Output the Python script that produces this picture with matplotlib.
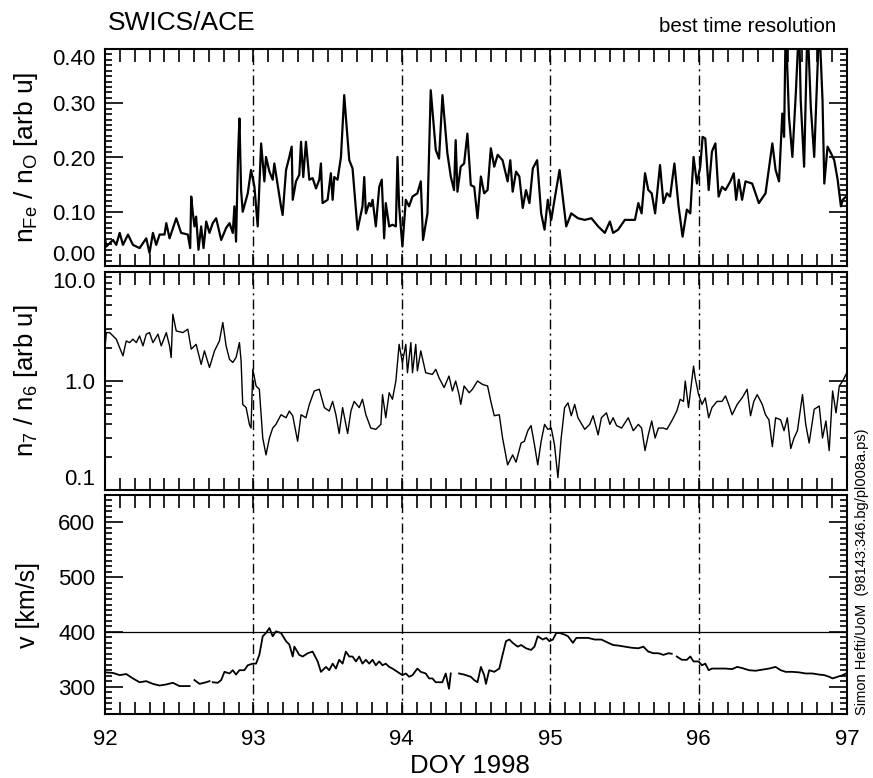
import numpy as np
import matplotlib
matplotlib.use("Agg")
import matplotlib.pyplot as plt
from matplotlib.ticker import MultipleLocator, FixedLocator, NullFormatter, FormatStrFormatter

plt.rcParams["font.family"] = ["Liberation Sans", "DejaVu Sans"]
plt.rcParams["mathtext.fontset"] = "custom"
plt.rcParams["mathtext.rm"] = "Liberation Sans"
plt.rcParams["mathtext.it"] = "Liberation Sans"

# --- Fe/O ratio (top panel) ---
fe_o_day = [92.000, 92.009, 92.054, 92.076, 92.099, 92.121, 92.155, 92.188, 92.233, 92.278,
            92.300, 92.323, 92.345, 92.368, 92.401, 92.413, 92.435, 92.480, 92.513, 92.558,
            92.574, 92.581, 92.592, 92.603, 92.614, 92.630, 92.648, 92.664, 92.682, 92.704,
            92.726, 92.749, 92.783, 92.816, 92.839, 92.861, 92.872, 92.883, 92.897, 92.906,
            92.917, 92.928, 92.962, 92.984, 93.007, 93.029, 93.052, 93.074, 93.085, 93.108,
            93.130, 93.141, 93.164, 93.186, 93.197, 93.220, 93.242, 93.258, 93.265, 93.287,
            93.309, 93.321, 93.336, 93.354, 93.377, 93.399, 93.422, 93.444, 93.455, 93.466,
            93.500, 93.522, 93.534, 93.545, 93.567, 93.590, 93.612, 93.623, 93.646, 93.668,
            93.702, 93.735, 93.747, 93.758, 93.780, 93.791, 93.803, 93.825, 93.848, 93.865,
            93.881, 93.892, 93.915, 93.937, 93.960, 93.971, 93.982, 94.004, 94.027, 94.049,
            94.072, 94.105, 94.128, 94.143, 94.173, 94.195, 94.229, 94.251, 94.274, 94.307,
            94.330, 94.352, 94.363, 94.375, 94.397, 94.420, 94.442, 94.465, 94.488, 94.510,
            94.533, 94.555, 94.578, 94.600, 94.623, 94.646, 94.679, 94.713, 94.731, 94.747,
            94.770, 94.792, 94.815, 94.837, 94.860, 94.883, 94.912, 94.939, 94.962, 94.984,
            95.007, 95.029, 95.063, 95.108, 95.142, 95.187, 95.233, 95.278, 95.323, 95.368,
            95.402, 95.424, 95.458, 95.503, 95.571, 95.594, 95.616, 95.639, 95.661, 95.684,
            95.707, 95.740, 95.763, 95.786, 95.808, 95.837, 95.865, 95.892, 95.921, 95.944,
            95.966, 95.989, 96.011, 96.027, 96.045, 96.068, 96.090, 96.113, 96.135, 96.158,
            96.181, 96.214, 96.237, 96.253, 96.271, 96.293, 96.316, 96.361, 96.406, 96.451,
            96.497, 96.519, 96.542, 96.564, 96.576, 96.587, 96.609, 96.632, 96.655, 96.677,
            96.688, 96.711, 96.734, 96.756, 96.779, 96.813, 96.835, 96.847, 96.869, 96.892,
            96.914, 96.937, 96.959, 96.971, 96.993]
fe_o = [0.051, 0.036, 0.048, 0.039, 0.061, 0.039, 0.058, 0.039, 0.033, 0.051,
        0.024, 0.061, 0.039, 0.058, 0.058, 0.079, 0.051, 0.088, 0.061, 0.058,
        0.033, 0.128, 0.097, 0.073, 0.091, 0.030, 0.073, 0.033, 0.082, 0.061,
        0.079, 0.088, 0.048, 0.070, 0.079, 0.061, 0.110, 0.045, 0.208, 0.272,
        0.140, 0.100, 0.134, 0.177, 0.146, 0.073, 0.226, 0.156, 0.201, 0.174,
        0.159, 0.189, 0.149, 0.110, 0.094, 0.177, 0.201, 0.220, 0.122, 0.156,
        0.168, 0.229, 0.164, 0.229, 0.159, 0.162, 0.143, 0.159, 0.189, 0.116,
        0.122, 0.171, 0.122, 0.164, 0.159, 0.201, 0.315, 0.275, 0.195, 0.180,
        0.067, 0.110, 0.164, 0.097, 0.116, 0.110, 0.122, 0.073, 0.146, 0.159,
        0.051, 0.116, 0.073, 0.076, 0.073, 0.201, 0.110, 0.036, 0.122, 0.110,
        0.128, 0.134, 0.156, 0.048, 0.097, 0.324, 0.214, 0.198, 0.315, 0.208,
        0.165, 0.140, 0.232, 0.137, 0.183, 0.189, 0.244, 0.149, 0.146, 0.088,
        0.165, 0.134, 0.140, 0.217, 0.183, 0.205, 0.195, 0.156, 0.195, 0.137,
        0.174, 0.165, 0.107, 0.140, 0.116, 0.180, 0.195, 0.097, 0.067, 0.122,
        0.085, 0.122, 0.177, 0.073, 0.097, 0.088, 0.085, 0.088, 0.073, 0.061,
        0.082, 0.061, 0.067, 0.085, 0.085, 0.116, 0.097, 0.171, 0.140, 0.134,
        0.097, 0.186, 0.116, 0.134, 0.128, 0.189, 0.110, 0.054, 0.104, 0.097,
        0.201, 0.152, 0.183, 0.238, 0.235, 0.140, 0.211, 0.226, 0.128, 0.146,
        0.140, 0.156, 0.171, 0.122, 0.159, 0.122, 0.156, 0.152, 0.116, 0.134,
        0.226, 0.177, 0.156, 0.281, 0.238, 0.450, 0.275, 0.201, 0.318, 0.450,
        0.306, 0.183, 0.450, 0.293, 0.201, 0.450, 0.306, 0.152, 0.220, 0.208,
        0.195, 0.159, 0.110, 0.122, 0.128]

# --- charge state ratio n7/n6 (middle panel) ---
ratio_day = [92.000, 92.009, 92.031, 92.076, 92.121, 92.143, 92.166, 92.188, 92.211, 92.233,
             92.256, 92.278, 92.300, 92.323, 92.357, 92.379, 92.413, 92.435, 92.446, 92.457,
             92.480, 92.525, 92.558, 92.581, 92.614, 92.648, 92.670, 92.704, 92.738, 92.771,
             92.794, 92.816, 92.839, 92.861, 92.883, 92.906, 92.917, 92.928, 92.951, 92.973,
             92.984, 92.996, 93.018, 93.040, 93.063, 93.085, 93.108, 93.130, 93.152, 93.186,
             93.220, 93.242, 93.265, 93.298, 93.321, 93.354, 93.377, 93.410, 93.444, 93.478,
             93.511, 93.534, 93.556, 93.578, 93.601, 93.635, 93.657, 93.679, 93.713, 93.735,
             93.758, 93.791, 93.825, 93.859, 93.870, 93.892, 93.915, 93.937, 93.960, 93.982,
             94.004, 94.027, 94.038, 94.061, 94.072, 94.094, 94.105, 94.128, 94.161, 94.206,
             94.229, 94.251, 94.285, 94.318, 94.341, 94.363, 94.386, 94.397, 94.420, 94.454,
             94.476, 94.510, 94.544, 94.578, 94.600, 94.623, 94.657, 94.679, 94.713, 94.747,
             94.770, 94.804, 94.826, 94.849, 94.871, 94.894, 94.916, 94.939, 94.962, 94.984,
             95.007, 95.029, 95.052, 95.074, 95.097, 95.120, 95.142, 95.165, 95.187, 95.233,
             95.266, 95.289, 95.323, 95.345, 95.379, 95.402, 95.424, 95.447, 95.481, 95.526,
             95.560, 95.594, 95.616, 95.639, 95.661, 95.684, 95.707, 95.729, 95.763, 95.786,
             95.819, 95.853, 95.876, 95.898, 95.910, 95.932, 95.966, 95.977, 96.000, 96.023,
             96.045, 96.068, 96.090, 96.124, 96.158, 96.181, 96.203, 96.226, 96.260, 96.293,
             96.327, 96.350, 96.372, 96.395, 96.429, 96.451, 96.474, 96.497, 96.519, 96.553,
             96.576, 96.598, 96.621, 96.643, 96.666, 96.700, 96.722, 96.745, 96.779, 96.813,
             96.835, 96.858, 96.880, 96.903, 96.926, 96.948, 96.971, 96.993]
ratio = [2.03, 2.78, 2.78, 2.42, 1.70, 2.33, 2.25, 2.42, 2.25, 2.59,
         2.10, 2.69, 2.78, 2.25, 2.69, 2.10, 2.78, 2.10, 1.64, 4.10,
         2.88, 2.78, 2.99, 1.96, 2.17, 1.42, 1.89, 1.33, 1.89, 2.33,
         3.44, 2.10, 1.58, 1.48, 1.64, 2.25, 1.53, 0.61, 0.57, 0.40,
         0.37, 1.28, 0.90, 0.84, 0.30, 0.21, 0.30, 0.37, 0.40, 0.49,
         0.46, 0.53, 0.48, 0.28, 0.49, 0.46, 0.61, 0.81, 0.84, 0.57,
         0.53, 0.65, 0.49, 0.33, 0.57, 0.33, 0.53, 0.65, 0.57, 0.68,
         0.49, 0.37, 0.36, 0.40, 0.75, 0.46, 0.78, 0.68, 1.00, 2.17,
         1.48, 2.17, 1.19, 2.25, 1.19, 2.17, 1.24, 1.89, 1.19, 1.15,
         1.28, 1.07, 0.87, 1.11, 0.81, 1.00, 0.75, 0.61, 0.90, 0.78,
         0.84, 1.00, 0.93, 0.90, 0.65, 0.48, 0.49, 0.30, 0.17, 0.21,
         0.18, 0.27, 0.28, 0.35, 0.39, 0.26, 0.17, 0.28, 0.40, 0.36,
         0.37, 0.26, 0.13, 0.30, 0.57, 0.63, 0.48, 0.61, 0.46, 0.36,
         0.40, 0.48, 0.32, 0.46, 0.51, 0.40, 0.46, 0.39, 0.37, 0.46,
         0.35, 0.40, 0.37, 0.23, 0.32, 0.43, 0.30, 0.37, 0.37, 0.36,
         0.43, 0.53, 0.68, 0.65, 1.00, 0.57, 1.37, 1.07, 0.75, 0.61,
         0.70, 0.46, 0.57, 0.65, 0.65, 0.73, 0.61, 0.49, 0.61, 0.70,
         0.84, 0.48, 0.65, 0.75, 0.61, 0.49, 0.44, 0.25, 0.46, 0.44,
         0.35, 0.46, 0.24, 0.30, 0.35, 0.75, 0.40, 0.27, 0.55, 0.59,
         0.30, 0.43, 0.23, 0.81, 0.51, 0.90, 1.00, 1.15]

# --- solar wind speed (bottom panel), nan = data gap ---
speed_day = [92.000, 92.054, 92.099, 92.143, 92.188, 92.233, 92.278, 92.323, 92.368, 92.413,
             92.457, 92.502, 92.547, 92.570, 92.586, 92.603, 92.637, 92.682, 92.704, 92.715,
             92.726, 92.760, 92.783, 92.805, 92.839, 92.861, 92.883, 92.906, 92.939, 92.962,
             92.996, 93.018, 93.040, 93.063, 93.085, 93.108, 93.130, 93.152, 93.186, 93.220,
             93.242, 93.265, 93.276, 93.309, 93.332, 93.366, 93.399, 93.433, 93.455, 93.489,
             93.511, 93.534, 93.556, 93.578, 93.601, 93.623, 93.646, 93.668, 93.691, 93.713,
             93.735, 93.758, 93.780, 93.803, 93.825, 93.848, 93.870, 93.892, 93.915, 93.937,
             93.971, 94.004, 94.027, 94.049, 94.072, 94.105, 94.128, 94.161, 94.184, 94.206,
             94.229, 94.273, 94.296, 94.318, 94.330, 94.358, 94.386, 94.420, 94.465, 94.488,
             94.510, 94.533, 94.555, 94.567, 94.589, 94.623, 94.657, 94.679, 94.702, 94.725,
             94.747, 94.781, 94.804, 94.837, 94.871, 94.894, 94.916, 94.950, 94.973, 94.995,
             95.018, 95.041, 95.063, 95.097, 95.120, 95.153, 95.176, 95.210, 95.255, 95.300,
             95.345, 95.391, 95.424, 95.458, 95.503, 95.549, 95.594, 95.628, 95.661, 95.695,
             95.729, 95.763, 95.797, 95.819, 95.836, 95.853, 95.887, 95.921, 95.944, 95.966,
             96.000, 96.023, 96.045, 96.068, 96.090, 96.135, 96.181, 96.226, 96.260, 96.293,
             96.339, 96.384, 96.429, 96.474, 96.519, 96.553, 96.587, 96.632, 96.677, 96.722,
             96.767, 96.813, 96.847, 96.880, 96.903, 96.937, 96.971, 96.993]
speed = [326, 325, 321, 323, 315, 308, 310, 305, 302, 304,
         307, 301, 301, 301, np.nan, 312, 305, 308, 310, np.nan,
         308, 307, 312, 327, 324, 330, 322, 330, 330, 339,
         342, 342, 358, 392, 398, 407, 392, 401, 398, 383,
         377, 355, 373, 358, 355, 361, 364, 346, 327, 336,
         330, 342, 333, 349, 342, 364, 355, 355, 346, 355,
         342, 349, 342, 349, 339, 346, 339, 342, 336, 333,
         327, 321, 324, 318, 321, 333, 327, 324, 315, 315,
         308, 308, 324, 296, 324, np.nan, 324, 322, 318, 312,
         308, 336, 321, 305, 330, 327, 333, 358, 383, 386,
         380, 373, 376, 370, 367, 373, 392, 386, 389, 383,
         386, 398, 398, 395, 392, 380, 389, 389, 389, 386,
         386, 380, 376, 375, 373, 371, 370, 373, 364, 361,
         361, 358, 361, 360, np.nan, 355, 349, 349, 355, 346,
         346, 339, 342, 330, 333, 333, 333, 332, 336, 334,
         330, 329, 331, 333, 336, 330, 327, 327, 326, 324,
         324, 322, 321, 318, 315, 318, 321, 324]

day_lines = [93, 94, 95, 96]

fig = plt.figure(figsize=(8.73, 7.78), dpi=100)
left, width = 105 / 873, 742 / 873
ax1 = fig.add_axes([left, 1 - 266 / 778, width, 217 / 778])
ax2 = fig.add_axes([left, 1 - 490 / 778, width, 218 / 778])
ax3 = fig.add_axes([left, 1 - 714 / 778, width, 219 / 778])

dash = (0, (7, 3, 1.5, 3))
for ax in (ax1, ax2, ax3):
    for d in day_lines:
        ax.axvline(d, color="black", lw=1.0, linestyle=dash, zorder=1)
    ax.set_xlim(92, 97)
    ax.xaxis.set_major_locator(MultipleLocator(1))
    ax.xaxis.set_minor_locator(MultipleLocator(0.1))
    ax.tick_params(axis="both", which="both", direction="in", top=True, right=True,
                   labelsize=16, width=1.2)
    ax.tick_params(axis="x", which="both", length=9, pad=11)
    ax.tick_params(axis="y", which="major", length=13, pad=7)
    ax.tick_params(axis="y", which="minor", length=5)
    for s in ax.spines.values():
        s.set_linewidth(1.5)

# top
ax1.plot(fe_o_day, fe_o, color="black", lw=1.6, zorder=2)
ax1.set_ylim(0, 0.40)
ax1.yaxis.set_major_locator(FixedLocator([0.0, 0.1, 0.2, 0.3, 0.4]))
ax1.yaxis.set_minor_locator(MultipleLocator(0.01))
ax1.yaxis.set_major_formatter(FormatStrFormatter("%.2f"))
ax1.tick_params(axis="x", labelbottom=False)
ax1.set_ylabel(r"n$_{\mathrm{Fe}}$ / n$_{\mathrm{O}}$ [arb u]", fontsize=19)

# middle
ax2.plot(ratio_day, ratio, color="black", lw=1.0, zorder=2)
ax2.set_yscale("log")
ax2.set_ylim(0.1, 10)
ax2.yaxis.set_major_locator(FixedLocator([0.1, 1.0, 10.0]))
ax2.yaxis.set_minor_locator(FixedLocator([k * 10.0 ** e for e in (-1, 0) for k in range(2, 10)]))
ax2.yaxis.set_major_formatter(FormatStrFormatter("%.1f"))
ax2.yaxis.set_minor_formatter(NullFormatter())
ax2.tick_params(axis="x", labelbottom=False)
ax2.set_ylabel(r"n$_7$ / n$_6$ [arb u]", fontsize=18.5)

# bottom
ax3.plot(speed_day, speed, color="black", lw=1.3, zorder=2)
ax3.axhline(400, color="black", lw=0.9, zorder=1)
ax3.set_ylim(250, 650)
ax3.yaxis.set_major_locator(FixedLocator([300, 400, 500, 600]))
ax3.yaxis.set_minor_locator(MultipleLocator(10))
ax3.xaxis.set_major_formatter(FormatStrFormatter("%d"))
ax3.set_ylabel("v [km/s]", fontsize=18)

for ax in (ax1, ax2, ax3):
    ax.yaxis.set_label_coords(-0.088, 0.5)

fig.text(108 / 873, 1 - 30 / 778, "SWICS/ACE", fontsize=19, ha="left", va="baseline")
fig.text(836 / 873, 1 - 32 / 778, "best time resolution", fontsize=14.8, ha="right", va="baseline")
fig.text(470 / 873, 1 - 773 / 778, "DOY 1998", fontsize=18.5, ha="center", va="baseline")
fig.text(862 / 873, 1 - 715 / 778, "Simon Hefti/UoM  (98143:346.bg/pl008a.ps)",
         fontsize=10.5, rotation=90, ha="center", va="bottom")

# like the original, the end labels of the upper panels sit inside the axis range
fig.canvas.draw()
for ax in (ax1, ax2):
    labels = ax.get_yticklabels()
    labels[0].set_va("bottom")
    labels[-1].set_va("top")

fig.savefig("out.png", dpi=100)
